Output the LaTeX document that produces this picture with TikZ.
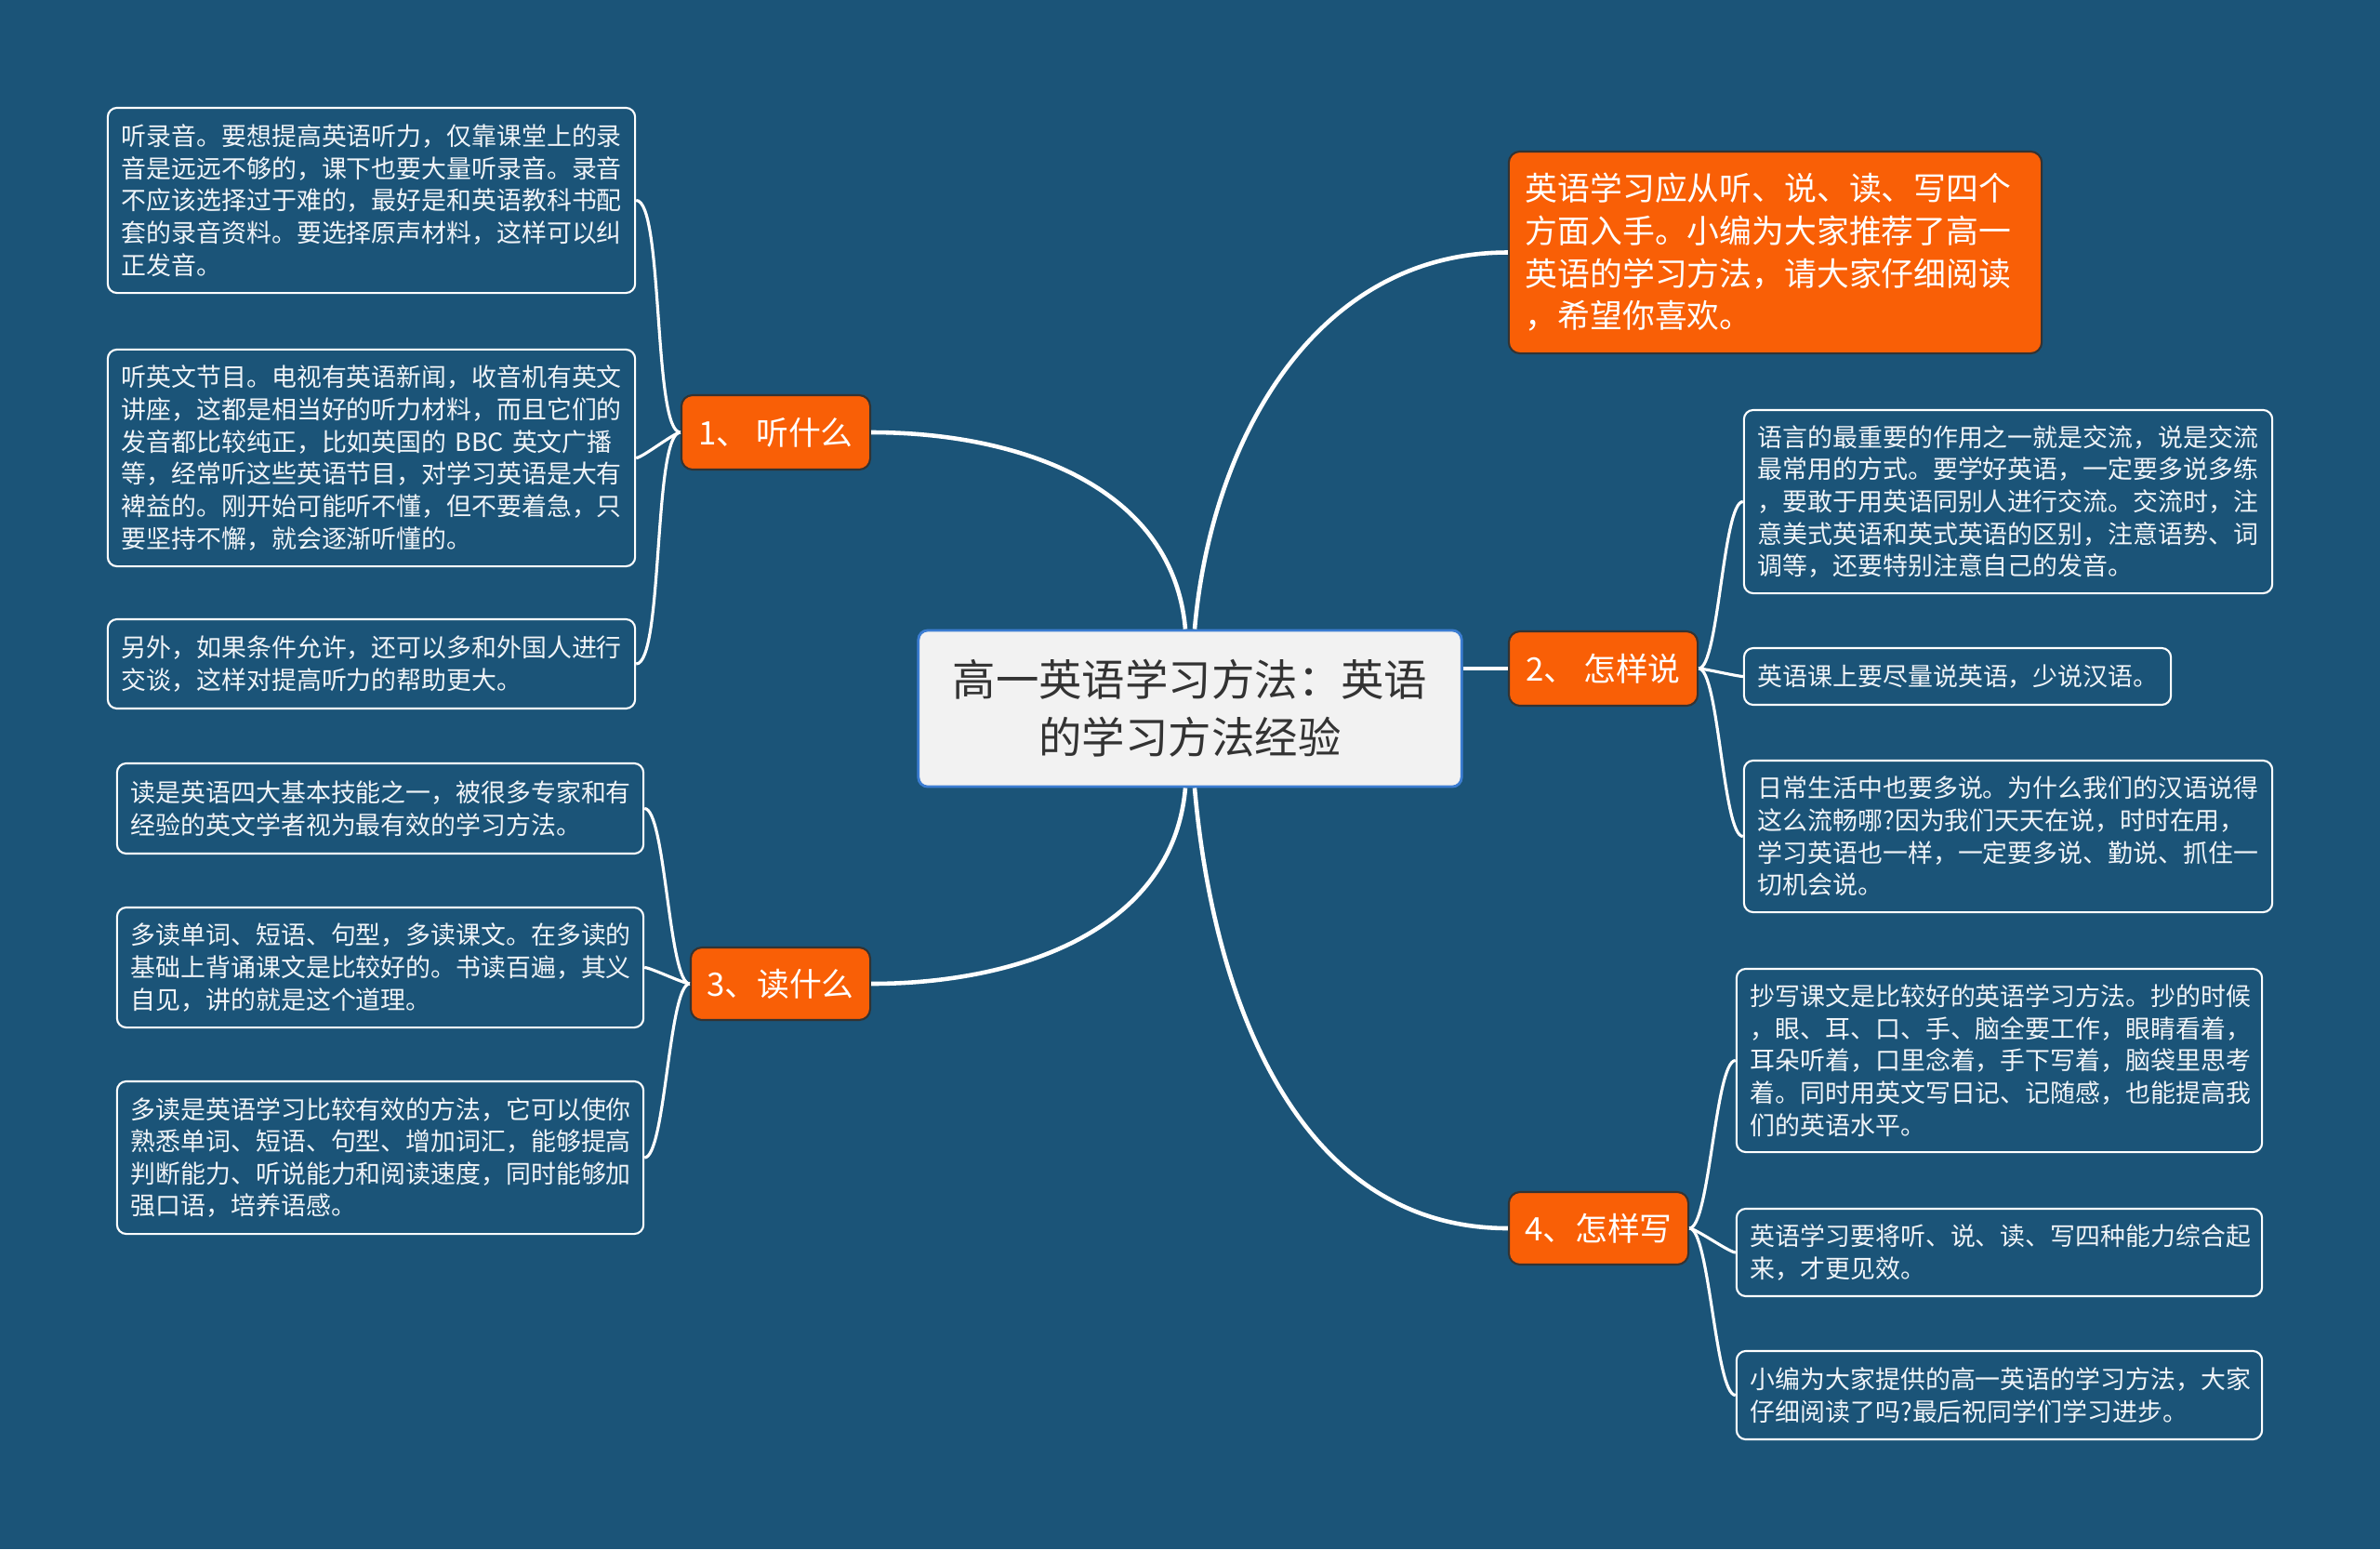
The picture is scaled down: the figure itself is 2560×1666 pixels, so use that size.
\documentclass[tikz,border=0pt]{standalone}
\usepackage{fontspec}
\setmainfont{Noto Sans CJK SC}

\definecolor{bgblue}{RGB}{27,84,120}
\definecolor{topicorange}{RGB}{249,95,6}
\definecolor{rootgrey}{RGB}{242,242,242}
\definecolor{rootblue}{RGB}{60,125,210}
\definecolor{leaftext}{RGB}{240,244,248}

\begin{document}
\begin{tikzpicture}[x=0.01cm, y=0.01cm,
	leaf/.style={draw=white, line width=0.6pt, rounded corners=0.1cm, fill=bgblue, text=leaftext, align=left, inner xsep=0.15cm, font=\fontsize{7.65pt}{9.85pt}\selectfont},
	topic/.style={draw=black!80, line width=0.6pt, rounded corners=0.12cm, fill=topicorange, text=white, font=\fontsize{9.9pt}{13pt}\selectfont},
	link/.style={draw=white, line width=1.3pt},
	twig/.style={draw=white, line width=0.9pt}]
	\useasboundingbox (0,0) rectangle (2560,-1666);
	\fill[bgblue] (0,0) rectangle (2560,-1666);
	% central topic
	\node[draw=rootblue, line width=0.8pt, rounded corners=0.1cm, fill=rootgrey, text=black!80, align=center, minimum width=5.84cm, minimum height=1.68cm, font=\fontsize{13.2pt}{17.6pt}\selectfont] (root) at (1280,-762) {高一英语学习方法：英语\\的学习方法经验};
	% main topics
	\node[topic, minimum width=2.03cm, minimum height=0.8cm] (listen) at (834.5,-465) {1、 听什么};
	\node[topic, minimum width=2.03cm, minimum height=0.8cm] (speak) at (1724.5,-719) {2、 怎样说};
	\node[topic, minimum width=1.93cm, minimum height=0.78cm] (read) at (839.5,-1058) {3、读什么};
	\node[topic, minimum width=1.93cm, minimum height=0.78cm] (write) at (1719.5,-1321) {4、怎样写};
	\node[topic, align=left, text width=5.37cm, inner xsep=0.18cm, minimum height=2.17cm] (intro) at (1909.5,-271.5) {英语学习应从听、说、读、写四个\\方面入手。小编为大家推荐了高一\\英语的学习方法，请大家仔细阅读\\，希望你喜欢。};
	% listening
	\node[leaf, text width=5.37cm, minimum height=1.99cm] (l1) at (399.5,-215.5) {听录音。要想提高英语听力，仅靠课堂上的录\\音是远远不够的，课下也要大量听录音。录音\\不应该选择过于难的，最好是和英语教科书配\\套的录音资料。要选择原声材料，这样可以纠\\正发音。};
	\node[leaf, text width=5.37cm, minimum height=2.33cm] (l2) at (399.5,-492.5) {听英文节目。电视有英语新闻，收音机有英文\\讲座，这都是相当好的听力材料，而且它们的\\发音都比较纯正，比如英国的 BBC 英文广播\\等，经常听这些英语节目，对学习英语是大有\\裨益的。刚开始可能听不懂，但不要着急，只\\要坚持不懈，就会逐渐听懂的。};
	\node[leaf, text width=5.37cm, minimum height=0.96cm] (l3) at (399.5,-714) {另外，如果条件允许，还可以多和外国人进行\\交谈，这样对提高听力的帮助更大。};
	% reading
	\node[leaf, text width=5.36cm, minimum height=0.97cm] (r1) at (409,-869.5) {读是英语四大基本技能之一，被很多专家和有\\经验的英文学者视为最有效的学习方法。};
	\node[leaf, text width=5.36cm, minimum height=1.29cm] (r2) at (409,-1040.5) {多读单词、短语、句型，多读课文。在多读的\\基础上背诵课文是比较好的。书读百遍，其义\\自见，讲的就是这个道理。};
	\node[leaf, text width=5.36cm, minimum height=1.64cm] (r3) at (409,-1245) {多读是英语学习比较有效的方法，它可以使你\\熟悉单词、短语、句型、增加词汇，能够提高\\判断能力、听说能力和阅读速度，同时能够加\\强口语，培养语感。};
	% speaking
	\node[leaf, text width=5.38cm, minimum height=1.97cm] (s1) at (2160,-539.5) {语言的最重要的作用之一就是交流，说是交流\\最常用的方式。要学好英语，一定要多说多练\\，要敢于用英语同别人进行交流。交流时，注\\意美式英语和英式英语的区别，注意语势、词\\调等，还要特别注意自己的发音。};
	\node[leaf, text width=4.29cm, minimum height=0.61cm] (s2) at (2105.5,-727.5) {英语课上要尽量说英语，少说汉语。};
	\node[leaf, text width=5.38cm, minimum height=1.63cm] (s3) at (2160,-899.5) {日常生活中也要多说。为什么我们的汉语说得\\这么流畅哪?因为我们天天在说，时时在用，\\学习英语也一样，一定要多说、勤说、抓住一\\切机会说。};
	% writing
	\node[leaf, text width=5.35cm, minimum height=1.97cm] (w1) at (2150.5,-1140.5) {抄写课文是比较好的英语学习方法。抄的时候\\，眼、耳、口、手、脑全要工作，眼睛看着，\\耳朵听着，口里念着，手下写着，脑袋里思考\\着。同时用英文写日记、记随感，也能提高我\\们的英语水平。};
	\node[leaf, text width=5.35cm, minimum height=0.94cm] (w2) at (2150.5,-1347) {英语学习要将听、说、读、写四种能力综合起\\来，才更见效。};
	\node[leaf, text width=5.35cm, minimum height=0.95cm] (w3) at (2150.5,-1500.5) {小编为大家提供的高一英语的学习方法，大家\\仔细阅读了吗?最后祝同学们学习进步。};
	% connectors from the centre
	\draw[link] ([xshift=-0.05cm]root.north) to[out=95,in=0] (listen.east);
	\draw[link] ([xshift=0.05cm]root.north) to[out=85,in=180] (intro.west);
	\draw[link] (root.east |- speak.west) -- (speak.west);
	\draw[link] ([xshift=-0.05cm]root.south) to[out=-95,in=0] (read.east);
	\draw[link] ([xshift=0.05cm]root.south) to[out=-85,in=180] (write.west);
	% connectors to the leaves
	\foreach \leaf in {l1,l2,l3}
		\draw[twig] (listen.west) to[out=180,in=0,looseness=0.3] (\leaf.east);
	\foreach \leaf in {r1,r2,r3}
		\draw[twig] (read.west) to[out=180,in=0,looseness=0.3] (\leaf.east);
	\foreach \leaf in {s1,s2,s3}
		\draw[twig] (speak.east) to[out=0,in=180,looseness=0.3] (\leaf.west);
	\foreach \leaf in {w1,w2,w3}
		\draw[twig] (write.east) to[out=0,in=180,looseness=0.3] (\leaf.west);
\end{tikzpicture}
\end{document}
